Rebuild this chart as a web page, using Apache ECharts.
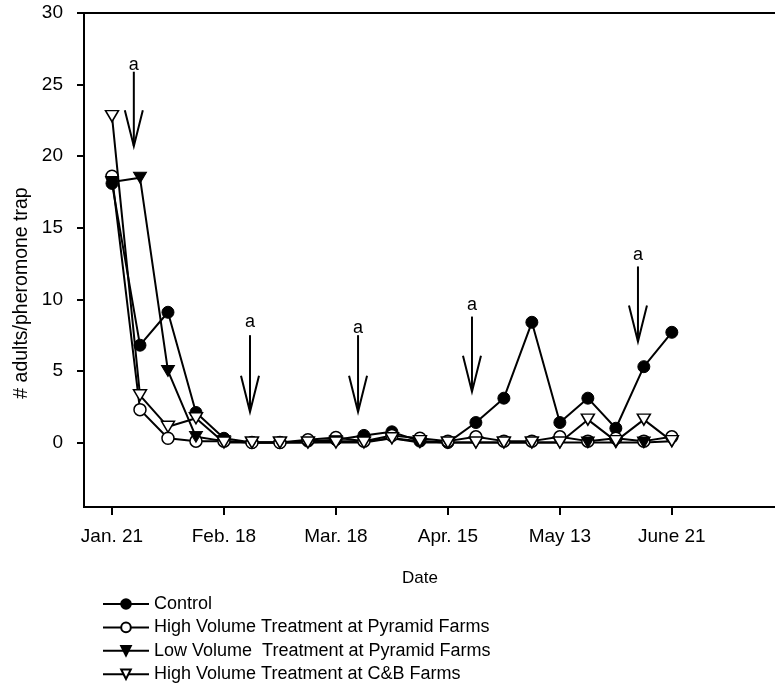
<!DOCTYPE html>
<html><head><meta charset="utf-8">
<script src="https://cdn.jsdelivr.net/npm/echarts@6/dist/echarts.min.js"></script>
<style>html,body{margin:0;padding:0;background:#fff}#c{width:775px;height:692px}</style>
</head><body><div id="c"></div>
<script>
// week index of each sampling date (Jan. 21 = 0)
const weeks = [0,1,2,3,4,5,6,7,8,9,10,11,12,13,14,15,16,17,18,19,20];
const tickWeeks = [0,4,8,12,16,20];
const tickLabels = ['Jan. 21','Feb. 18','Mar. 18','Apr. 15','May 13','June 21'];
const yTicks = [0,5,10,15,20,25,30];
const seriesNames = ['Control','High Volume Treatment at Pyramid Farms','Low Volume  Treatment at Pyramid Farms','High Volume Treatment at C&B Farms'];
const control     = [18.1,6.8,9.1,2.1,0.3,0,0,0.1,0.2,0.5,0.75,0.1,0,1.4,3.1,8.4,1.4,3.1,1.0,5.3,7.7];
const highPyramid = [18.6,2.3,0.3,0.1,0.1,0,0,0.2,0.35,0.1,0.5,0.3,0.1,0.4,0.1,0.1,0.4,0.1,0.3,0.1,0.4];
const lowPyramid  = [18.2,18.5,5.0,0.4,0.1,0,0,0,0.1,0.1,0.3,0,0,0,0,0,0,0,0,0,0.1];
const highCB      = [22.8,3.3,1.1,1.7,0,0,0,0,0,0,0.3,0.1,0,0,0,0,0,1.6,0.1,1.6,0.1];
// treatment arrows ("a")
const arrowWeeks  = [0.78,4.93,8.79,12.86,18.79];
const arrowTop    = [25.9,7.5,7.5,8.8,12.3];
const arrowTip    = [20.7,2.15,2.15,3.55,7.05];
const arrowLabelY = [26.4,8.45,8.0,9.6,13.1];
const arrowText   = ['a','a','a','a','a'];

const FONT = "'Liberation Sans', Arial, sans-serif";
const chart = echarts.init(document.getElementById('c'), null, {renderer:'canvas'});

function mk(vals){ return weeks.map((w,i)=>[w, vals[i]]); }
function lineSeries(name, vals, symbol, size, rotate, filled){
  return {
    name, type:'line', data: mk(vals), symbol, symbolSize: size, symbolRotate: rotate,
    showAllSymbol: true,
    lineStyle:{color:'#000', width:2},
    itemStyle: filled ? {color:'#000', borderColor:'#000', borderWidth:1} : {color:'#fff', borderColor:'#000', borderWidth:1.5},
    z: 3
  };
}

const option = {
  animation:false,
  backgroundColor:'#fff',
  grid:{left:84, top:13, width:711, bottom:185, show:true, borderColor:'#000', borderWidth:2,
        containLabel:false, outerBoundsMode:'none'},
  xAxis:{
    type:'value', min:-1, max:24.4,
    axisLine:{show:false, onZero:false},
    splitLine:{show:false},
    axisTick:{show:true, customValues: tickWeeks, length:8, lineStyle:{color:'#000', width:2}, inside:false},
    axisLabel:{show:true, customValues: tickWeeks, margin:20, fontSize:19, fontFamily:FONT, color:'#000',
      formatter: v => tickLabels[tickWeeks.indexOf(v)] || ''}
  },
  yAxis:{
    type:'value', min:-4.5, max:30,
    axisLine:{show:false, onZero:false},
    splitLine:{show:false},
    axisTick:{show:true, customValues: yTicks, length:7, lineStyle:{color:'#000', width:2}},
    axisLabel:{show:true, customValues: yTicks, margin:21, fontSize:19, fontFamily:FONT, color:'#000'}
  },
  legend:{
    orient:'vertical', left:97, top:590, itemWidth:46, itemHeight:12, itemGap:5.4,
    textStyle:{fontSize:18, fontFamily:FONT, color:'#000'},
    data: seriesNames
  },
  graphic:[
    {type:'text', x:22, y:293, rotation:Math.PI/2,
     style:{text:'# adults/pheromone trap', font:'19.5px '+FONT, fill:'#000', align:'center', verticalAlign:'middle'}},
    {type:'text', x:420, y:578,
     style:{text:'Date', font:'17px '+FONT, fill:'#000', align:'center', verticalAlign:'middle'}}
  ],
  series:[
    lineSeries(seriesNames[0], control, 'circle', 12, 0, true),
    lineSeries(seriesNames[1], highPyramid, 'circle', 12, 0, false),
    lineSeries(seriesNames[2], lowPyramid, 'triangle', [13,11], 180, true),
    lineSeries(seriesNames[3], highCB, 'triangle', [13,11], 180, false),
    {
      type:'custom', name:'arrows', z:4,
      data: arrowWeeks.map((w,i)=>[w, arrowTop[i], arrowTip[i], arrowLabelY[i]]),
      encode:{x:0, y:[1,2,3]},
      renderItem:function(params, api){
        const x = api.value(0);
        const pTop = api.coord([x, api.value(1)]);
        const pTip = api.coord([x, api.value(2)]);
        const pL = api.coord([x, api.value(3)]);
        return {type:'group', children:[
          {type:'line', shape:{x1:pTop[0], y1:pTop[1], x2:pTip[0], y2:pTip[1]}, style:{stroke:'#000', lineWidth:2}},
          {type:'polyline', shape:{points:[[pTip[0]-9, pTip[1]-36],[pTip[0], pTip[1]],[pTip[0]+9, pTip[1]-36]]}, style:{stroke:'#000', fill:null, lineWidth:2}},
          {type:'text', x:pL[0], y:pL[1], style:{text:arrowText[params.dataIndex], font:'18px '+FONT, fill:'#000', align:'center', verticalAlign:'middle'}}
        ]};
      }
    }
  ]
};
chart.setOption(option);
</script></body></html>
